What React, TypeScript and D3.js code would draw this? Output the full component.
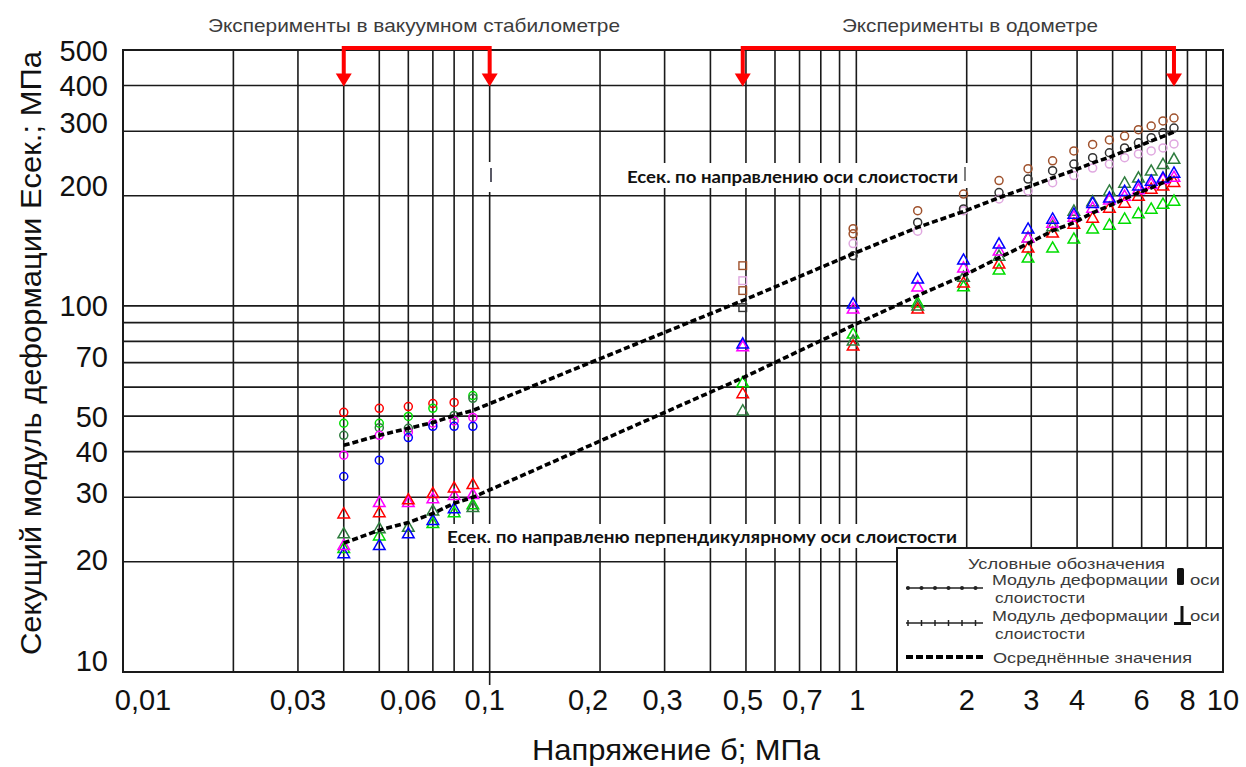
import React from 'react';
import * as d3 from 'd3';

// ---- Axis ticks ----
const xTickValues = [0.01, 0.03, 0.06, 0.1, 0.2, 0.3, 0.5, 0.7, 1, 2, 3, 4, 6, 8, 10];
const xTickLabels = ['0,01', '0,03', '0,06', '0,1', '0,2', '0,3', '0,5', '0,7', '1', '2', '3', '4', '6', '8', '10'];
const xTickDx = [20, 0, 0, -5, -12, -2, -3, 3, 1, 0, 0, 0, 0, 0, 0];
const yTickValues = [500, 400, 300, 200, 100, 70, 50, 40, 30, 20, 10];
const yTickLabels = ['500', '400', '300', '200', '100', '70', '50', '40', '30', '20', '10'];
const yTickDy = [0, 0, -9, -10, 0, -6, 0, 0, -5, -2, -12];

// ---- Stress steps (MPa) ----
const stabX = [0.04, 0.05, 0.06, 0.07, 0.08, 0.09];
const odoX = [0.49, 0.98, 1.47, 1.96, 2.45, 2.94, 3.43, 3.92, 4.41, 4.9, 5.39, 5.88, 6.37, 6.86, 7.35];

// ---- Parallel to layering (circles), vacuum stabilometer ----
const parRed = [51.2, 52.5, 53.1, 54.1, 54.5, null];
const parGreen = [47.8, 47.8, 49.9, 52.5, null, 56.9];
const parDarkGreen = [44.3, 46.5, 46.3, null, 50.2, 55.9];
const parMagenta = [39.1, 44.3, 45.2, 47.8, 48.5, 49.6];
const parBlue = [34.2, 37.9, 43.7, 46.9, 46.9, 46.9];

// ---- Parallel (circles), odometer ----
const parBrown = [null, 162.5, 182, 202, 220, 237, 249, 265, 276, 284, 291, 303, 310, 320, 326];
const parBrown2 = [null, 157.4, null, null, null, null, null, null, null, null, null, null, null, null, null];
const parBlack = [null, 137, 169, 184, 204, 222, 234, 244, 254, 262, 270, 279, 288, 297, 306];
const parPink = [null, 148, 160, 182, 196, 206, 217, 227, 238, 244, 254, 260, 265, 270, 277];
// squares at 0.49 MPa
const sqValues = [128.8, 117.2, 110.1, 98.9];
const sqColors = ['#a0522d', '#e0a8e0', '#a0522d', '#333333'];

// ---- Perpendicular to layering (triangles), vacuum stabilometer ----
const perRed = [27.1, 27.3, 29.6, 30.8, 31.9, 32.6];
const perMagenta = [22.2, 29.1, 29.1, 29.8, 30.4, 30.6];
const perDarkGreen = [23.9, 24.7, 24.9, 27.6, null, 28.2];
const perGreen = [21.8, 23.6, null, 25.5, 27.3, 28.7];
const perBlue = [21.1, 22.2, 23.9, 26.0, 28.0, null];

// ---- Perpendicular (triangles), odometer ----
const perBlueO = [78.9, 101.4, 118.7, 133.7, 147.9, 162.5, 173, 178.5, 191, 197.5, 206, 213, 219.7, 224, 231];
const perMagentaO = [77.5, 98.3, 112.9, 127.2, 141.5, 153.6, 168.7, 175.2, 185.4, 195, 199.8, 208, 215.5, 222, 225];
const perRedO = [57.7, 77.9, 98.3, 115.8, 130.4, 144.2, 158.5, 167.6, 174.1, 185.4, 191.3, 199.8, 208.9, 213, 218];
const perGreenO = [61.8, 84, 102.1, 113, 125.6, 135.4, 144.2, 152.6, 162.5, 166.6, 173, 179, 184.2, 190, 193.7];
const perDarkGreenO = [51.8, 80.4, 100.2, 120, 137, 153.6, 165, 181.9, 193, 206.3, 216.9, 224, 234, 244, 252];

// ---- Averaged values (dashed lines) ----
const avgX = [...stabX, ...odoX];
const avgPar = [41.6, 44.3, 46.3, 48.0, 50.2, 51.8, 103.4, 138.8, 163.9, 181.1, 197.5, 211, 223.7, 234.5, 245.8, 254.6, 264.8, 273.1, 282.2, 290.3, 298.7];
const avgPer = [22.5, 24.4, 25.6, 27.1, 28.9, 30.0, 63.6, 88.5, 106.7, 121, 135.4, 148, 160.5, 168.7, 179.6, 187.8, 196, 203.7, 210, 217, 226.6];

// ---- Experiment ranges (red brackets) ----
const bracketRanges: [number, number][] = [[0.04, 0.1], [0.49, 7.35]];
const bracketLabels = ['Эксперименты в вакуумном стабилометре', 'Эксперименты в одометре'];

const RED = '#ff0000';
const GREEN = '#00dd00';
const DGREEN = '#2e7d3e';
const MAGENTA = '#ff00ff';
const BLUE = '#0000ff';
const BROWN = '#a0522d';
const PINK = '#e0a8e0';
const BLACK = '#333333';

type Series = { xs: number[]; vs: (number | null)[]; color: string };

const circleSeries: Series[] = [
  { xs: stabX, vs: parRed, color: RED },
  { xs: stabX, vs: parGreen, color: GREEN },
  { xs: stabX, vs: parDarkGreen, color: DGREEN },
  { xs: stabX, vs: parMagenta, color: MAGENTA },
  { xs: stabX, vs: parBlue, color: BLUE },
  { xs: odoX, vs: parPink, color: PINK },
  { xs: odoX, vs: parBlack, color: BLACK },
  { xs: odoX, vs: parBrown2, color: BROWN },
  { xs: odoX, vs: parBrown, color: BROWN },
];

const triSeries: Series[] = [
  { xs: stabX, vs: perGreen, color: GREEN },
  { xs: stabX, vs: perDarkGreen, color: DGREEN },
  { xs: stabX, vs: perBlue, color: BLUE },
  { xs: stabX, vs: perMagenta, color: MAGENTA },
  { xs: stabX, vs: perRed, color: RED },
  { xs: odoX, vs: perGreenO, color: GREEN },
  { xs: odoX, vs: perRedO, color: RED },
  { xs: odoX, vs: perDarkGreenO, color: DGREEN },
  { xs: odoX, vs: perMagentaO, color: MAGENTA },
  { xs: odoX, vs: perBlueO, color: BLUE },
];

const AX_FONT = '"Liberation Sans", Arial, sans-serif';

export default function App() {
  const W = 1246;
  const H = 767;
  const x = d3.scaleLog().domain([0.01, 10]).range([123, 1223]);
  const y = d3.scaleLog().domain([10, 500]).range([672, 50]);
  const [x0, x1] = x.range();
  const [y0, y1] = y.range();

  const xGrid = x.ticks().filter((t) => t > 0.01 + 1e-9 && t < 10 - 1e-9);
  const yGrid = y.ticks().filter((t) => t > 10 + 1e-9 && t < 500 - 1e-9);

  const line = d3
    .line<[number, number]>()
    .x((d) => x(d[0]))
    .y((d) => y(d[1]));
  const parPts: [number, number][] = avgX.map((v, i) => [v, avgPar[i]]);
  const perPts: [number, number][] = avgX.map((v, i) => [v, avgPer[i]]);

  const tri = 'M0,-5.8 L5.8,4.4 L-5.8,4.4 Z';

  const legX = 897;
  const legY = 548;
  const legSample = d3.range(6).map((i) => 908 + i * 13.5);

  return (
    <svg
      width={W}
      height={H}
      viewBox={`0 0 ${W} ${H}`}
      style={{ position: 'absolute', left: 0, top: 0, background: '#fff' }}
    >
      <rect x={0} y={0} width={W} height={H} fill="#fff" />

      {/* grid */}
      <g stroke="#1a1a1a" strokeWidth={1.6}>
        {xGrid.map((t) => (
          <line key={'gx' + t} x1={x(t)} x2={x(t)} y1={y1} y2={t === 0.1 ? y0 + 13 : y0} />
        ))}
        {yGrid.map((t) => (
          <line key={'gy' + t} x1={x0} x2={x1} y1={y(t)} y2={y(t)} />
        ))}
      </g>
      <rect x={x0} y={y1} width={x1 - x0} height={y0 - y1} fill="none" stroke="#1a1a1a" strokeWidth={2} />

      {/* annotation boxes inside plot */}
      <rect x={620} y={163} width={348} height={25} fill="#fff" />
      <rect x={486} y={162} width={10} height={30} fill="#fff" />
      <rect x={442} y={524} width={520} height={24} fill="#fff" />

      {/* squares at 0.49 */}
      {sqValues.map((v, i) => (
        <rect
          key={'sq' + i}
          x={x(0.49) - 3.8}
          y={y(v) - 3.8}
          width={7.6}
          height={7.6}
          fill="none"
          stroke={sqColors[i]}
          strokeWidth={1.4}
        />
      ))}

      {/* circles */}
      {circleSeries.map((s, si) =>
        s.vs.map((v, i) =>
          v == null ? null : (
            <circle
              key={`c${si}-${i}`}
              cx={x(s.xs[i])}
              cy={y(v)}
              r={4}
              fill="none"
              stroke={s.color}
              strokeWidth={1.5}
            />
          )
        )
      )}

      {/* triangles */}
      {triSeries.map((s, si) =>
        s.vs.map((v, i) =>
          v == null ? null : (
            <path
              key={`t${si}-${i}`}
              d={tri}
              transform={`translate(${x(s.xs[i])},${y(v)})`}
              fill="none"
              stroke={s.color}
              strokeWidth={1.5}
            />
          )
        )
      )}

      {/* averaged dashed lines */}
      <path d={line(parPts) || ''} fill="none" stroke="#000" strokeWidth={3.6} strokeDasharray="6 3" />
      <path d={line(perPts) || ''} fill="none" stroke="#000" strokeWidth={3.6} strokeDasharray="6 3" />

      {/* in-plot labels */}
      <text
        x={627}
        y={183}
        fontFamily="Lato, 'Open Sans', sans-serif"
        fontWeight={700}
        fontSize={17.5}
        fill="#111"
        textLength={331}
        lengthAdjust="spacingAndGlyphs"
      >
        Есек. по направлению оси слоистости
      </text>
      <line x1={965} x2={965} y1={167} y2={181} stroke="#555" strokeWidth={1.5} />
      <line x1={491} x2={491} y1={168} y2={182} stroke="#223" strokeWidth={1.5} />
      <text
        x={447}
        y={543}
        fontFamily="Lato, 'Open Sans', sans-serif"
        fontWeight={700}
        fontSize={17.5}
        fill="#111"
        textLength={510}
        lengthAdjust="spacingAndGlyphs"
      >
        Есек. по направленю перпендикулярному оси слоистости
      </text>

      {/* red brackets */}
      {bracketRanges.map(([a, b], i) => {
        const xa = x(a);
        const xb = x(b);
        const top = 48;
        const tip = y(400) + 1;
        return (
          <g key={'br' + i}>
            <path
              d={`M${xa},${tip - 12} L${xa},${top} L${xb},${top} L${xb},${tip - 12}`}
              fill="none"
              stroke={RED}
              strokeWidth={4}
            />
            <path d={`M${xa - 8},${tip - 13} L${xa + 8},${tip - 13} L${xa},${tip} Z`} fill={RED} />
            <path d={`M${xb - 8},${tip - 13} L${xb + 8},${tip - 13} L${xb},${tip} Z`} fill={RED} />
          </g>
        );
      })}
      <text x={208} y={32} fontFamily={AX_FONT} fontSize={19} fill="#3c3c3c" textLength={412} lengthAdjust="spacingAndGlyphs">
        {bracketLabels[0]}
      </text>
      <text x={842} y={32} fontFamily={AX_FONT} fontSize={19} fill="#3c3c3c" textLength={256} lengthAdjust="spacingAndGlyphs">
        {bracketLabels[1]}
      </text>

      {/* x tick labels */}
      {xTickValues.map((t, i) => (
        <text
          key={'xt' + i}
          x={x(t) + xTickDx[i]}
          y={710}
          textAnchor="middle"
          fontFamily={AX_FONT}
          fontSize={29}
          fill="#111"
        >
          {xTickLabels[i]}
        </text>
      ))}
      {/* y tick labels */}
      {yTickValues.map((t, i) => (
        <text
          key={'yt' + i}
          x={108}
          y={y(t) + 10.5 + yTickDy[i]}
          textAnchor="end"
          fontFamily={AX_FONT}
          fontSize={29}
          fill="#111"
        >
          {yTickLabels[i]}
        </text>
      ))}

      {/* axis titles */}
      <text
        x={676}
        y={760}
        textAnchor="middle"
        fontFamily={AX_FONT}
        fontSize={30}
        fill="#111"
        textLength={288}
        lengthAdjust="spacingAndGlyphs"
      >
        Напряжение б; МПа
      </text>
      <text
        transform="translate(41,353) rotate(-90)"
        textAnchor="middle"
        fontFamily={AX_FONT}
        fontSize={29}
        fill="#111"
        textLength={604}
        lengthAdjust="spacingAndGlyphs"
      >
        Секущий модуль деформации Eсек.; МПа
      </text>

      {/* legend */}
      <rect x={legX} y={legY} width={x1 - legX} height={y0 - legY} fill="#fff" stroke="#1a1a1a" strokeWidth={2} />
      <g fontFamily={AX_FONT} fontSize={15} fill="#3a3a3a">
        <text x={968} y={569} textLength={197} lengthAdjust="spacingAndGlyphs">Условные обозначения</text>
        <text x={992} y={585} textLength={176} lengthAdjust="spacingAndGlyphs">Модуль деформации</text>
        <text x={1190} y={585} textLength={30} lengthAdjust="spacingAndGlyphs">оси</text>
        <text x={995} y={603} textLength={90} lengthAdjust="spacingAndGlyphs">слоистости</text>
        <text x={992} y={621} textLength={176} lengthAdjust="spacingAndGlyphs">Модуль деформации</text>
        <text x={1190} y={621} textLength={30} lengthAdjust="spacingAndGlyphs">оси</text>
        <text x={995} y={639} textLength={90} lengthAdjust="spacingAndGlyphs">слоистости</text>
        <text x={993} y={663} textLength={199} lengthAdjust="spacingAndGlyphs">Осреднённые значения</text>
      </g>
      {/* parallel symbol */}
      <rect x={1177} y={568} width={7} height={17} rx={1.5} fill="#111" />
      {/* perpendicular symbol */}
      <path d="M1182,606 L1182,623 M1174,623.5 L1191,623.5" stroke="#111" strokeWidth={3} fill="none" />
      {/* legend samples */}
      <line x1={906} x2={983} y1={588} y2={588} stroke="#222" strokeWidth={1.3} />
      {legSample.map((sx, i) => (
        <circle key={'ls1' + i} cx={sx} cy={588} r={2} fill="#222" />
      ))}
      <line x1={906} x2={983} y1={623} y2={623} stroke="#222" strokeWidth={1.3} />
      {legSample.map((sx, i) => (
        <line key={'ls2' + i} x1={sx} x2={sx} y1={620} y2={626} stroke="#222" strokeWidth={1.5} />
      ))}
      <line x1={906} x2={983} y1={657} y2={657} stroke="#000" strokeWidth={4} strokeDasharray="7 3" />
    </svg>
  );
}
